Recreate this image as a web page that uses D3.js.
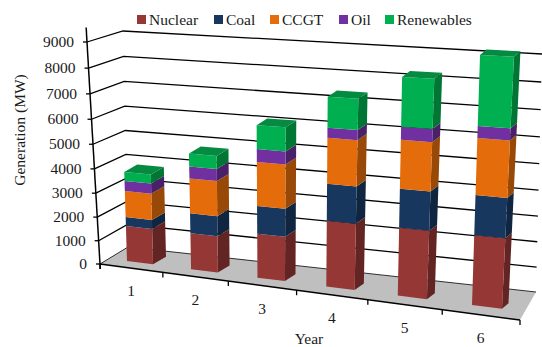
<!DOCTYPE html>
<html>
<head>
<meta charset="utf-8">
<script src="https://cdn.jsdelivr.net/npm/d3@7"></script>
<style>
html, body { margin: 0; padding: 0; background: #fff; }
text { font-family: "Liberation Serif", serif; font-size: 15.5px; fill: #1a1a1a; }
</style>
</head>
<body>
<div id="chart"></div>
<script>
const years = ["1", "2", "3", "4", "5", "6"];
const seriesNames = ["Nuclear", "Coal", "CCGT", "Oil", "Renewables"];
const nuclear = [1400, 1400, 1670, 2440, 2450, 2460];
const coal = [360, 780, 1060, 1370, 1410, 1410];
const ccgt = [1040, 1360, 1670, 1700, 1770, 2010];
const oil = [400, 470, 490, 370, 470, 420];
const renewables = [360, 500, 910, 1150, 1800, 2500];
const yTicks = [0, 1000, 2000, 3000, 4000, 5000, 6000, 7000, 8000, 9000];

const width = 542;
const height = 347;

const frontColors = ["#953735", "#17375e", "#e46c0a", "#7030a0", "#00b050"];
const sideColors = ["#632523", "#10253f", "#984807", "#4a2069", "#007635"];
const topColor = "#058a42";

const svg = d3.select("#chart").append("svg")
    .attr("width", width)
    .attr("height", height)
    .style("display", "block");

const line = d3.line();
const mix = (a, b, t) => a + (b - a) * t;

// perspective squeeze along an axis
const warp = (t, k) => k * t / (1 + (k - 1) * t);

const uScale = d3.scaleLinear().domain([0, years.length]).range([0, 1]);
const wScale = d3.scaleLinear().domain([0, 9000]).range([0, 1]);

// cage of the walls and floor, v = 0 front, v = 1 back
const wall = {
    frontLeft: [[100, 264], [87, 42]],
    backLeft: [[128, 247], [123, 31]],
    backRight: [[536, 292], [542, 54]],
    frontRight: [[520, 320], [529, 70]]
};

function wallPoint(cat, v, value) {
    let u = warp(uScale(cat), 0.88);
    let w = warp(wScale(value), 0.937);
    return [0, 1].map(i => {
        let left = mix(mix(wall.frontLeft[0][i], wall.frontLeft[1][i], w), mix(wall.backLeft[0][i], wall.backLeft[1][i], w), v);
        let right = mix(mix(wall.frontRight[0][i], wall.frontRight[1][i], w), mix(wall.backRight[0][i], wall.backRight[1][i], w), v);
        return mix(left, right, u);
    });
}

// the bars have their own cage, the picture's bars don't sit quite in the walls' space
const barPos = d3.scalePoint().domain(years).range([0, 1]);
const barCage = {
    bottom: [[127, 261], [472, 305]],
    top: [[120, 36], [480.2, 49.4]]
};

function barPoint(year, a, d, value) {
    let t = warp(barPos(year), 0.912);
    let w = wScale(value);
    let x = mix(mix(barCage.bottom[0][0], barCage.bottom[1][0], t), mix(barCage.top[0][0], barCage.top[1][0], t), w);
    let y = mix(mix(barCage.bottom[0][1], barCage.bottom[1][1], t), mix(barCage.top[0][1], barCage.top[1][1], t), w);
    let barW = mix(mix(26, 30, t), mix(27.5, 34, t), w);
    let slope = mix(0.125, 0.047, w);
    let depthX = mix(13, 6.5, t);
    let depthY = mix(-7.5, -5.5, t);
    return [x + a * barW + d * depthX, y + a * barW * slope + d * depthY];
}

// floor
svg.append("path")
    .attr("d", line([wallPoint(0, 0, 0), wallPoint(0, 1, 0), wallPoint(6, 1, 0), wallPoint(6, 0, 0)]) + "Z")
    .attr("fill", "#bfbfbf");

// gridlines, side wall then back wall
svg.append("g").selectAll("path")
    .data(yTicks)
    .join("path")
    .attr("d", d => line([wallPoint(0, 0, d), wallPoint(0, 1, d), wallPoint(6, 1, d)]))
    .attr("fill", "none")
    .attr("stroke", "#000")
    .attr("stroke-width", d => d === 0 ? 0.8 : 1.3);

// bars
const rows = years.map((y, i) => ({ year: y, Nuclear: nuclear[i], Coal: coal[i], CCGT: ccgt[i], Oil: oil[i], Renewables: renewables[i] }));
const stacked = d3.stack().keys(seriesNames)(rows);

years.forEach((year, i) => {
    let g = svg.append("g");
    stacked.forEach((layer, s) => {
        let y0 = layer[i][0];
        let y1 = layer[i][1];
        g.append("path")
            .attr("d", line([barPoint(year, 1, 0, y0), barPoint(year, 1, 1, y0), barPoint(year, 1, 1, y1), barPoint(year, 1, 0, y1)]) + "Z")
            .attr("fill", sideColors[s]);
        g.append("path")
            .attr("d", line([barPoint(year, 0, 0, y0), barPoint(year, 1, 0, y0), barPoint(year, 1, 0, y1), barPoint(year, 0, 0, y1)]) + "Z")
            .attr("fill", frontColors[s]);
        if (s === stacked.length - 1) {
            g.append("path")
                .attr("d", line([barPoint(year, 0, 0, y1), barPoint(year, 1, 0, y1), barPoint(year, 1, 1, y1), barPoint(year, 0, 1, y1)]) + "Z")
                .attr("fill", topColor);
        }
    });
});

// y axis
svg.append("path")
    .attr("d", line([wallPoint(0, 0, 9550), wallPoint(0, 0, -220)]))
    .attr("fill", "none")
    .attr("stroke", "#000")
    .attr("stroke-width", 1.5);

svg.append("g").selectAll("path")
    .data(yTicks)
    .join("path")
    .attr("d", d => {
        let p = wallPoint(0, 0, d);
        return line([[p[0] - 4, p[1]], p]);
    })
    .attr("stroke", "#000")
    .attr("stroke-width", 1.3);

svg.append("g").selectAll("text")
    .data(yTicks)
    .join("text")
    .attr("x", d => wallPoint(0, 0, d)[0] - 13)
    .attr("y", d => wallPoint(0, 0, d)[1] + 5)
    .attr("text-anchor", "end")
    .text(d => d);

// x axis
svg.append("path")
    .attr("d", line([wallPoint(0, 0, 0), wallPoint(6, 0, 0)]))
    .attr("fill", "none")
    .attr("stroke", "#000")
    .attr("stroke-width", 1.5);

svg.append("g").selectAll("path")
    .data(d3.range(years.length + 1))
    .join("path")
    .attr("d", d => {
        let p = wallPoint(d, 0, 0);
        return line([p, [p[0], p[1] + 5]]);
    })
    .attr("stroke", "#000")
    .attr("stroke-width", 1.3);

svg.append("g").selectAll("text")
    .data(years)
    .join("text")
    .attr("x", (d, i) => wallPoint(i + 0.5, 0, 0)[0])
    .attr("y", (d, i) => wallPoint(i + 0.5, 0, 0)[1] + 28)
    .attr("text-anchor", "middle")
    .text(d => d);

// axis titles
svg.append("text")
    .attr("x", 309)
    .attr("y", 343.5)
    .attr("text-anchor", "middle")
    .text("Year");

svg.append("text")
    .attr("transform", "translate(25,130) rotate(-90)")
    .attr("text-anchor", "middle")
    .text("Generation (MW)");

// legend
const legendX = d3.scaleOrdinal().domain(seriesNames).range([137, 214, 270, 339, 385]);

const legend = svg.append("g").selectAll("g")
    .data(seriesNames)
    .join("g")
    .attr("transform", d => `translate(${legendX(d)},15)`);

legend.append("rect")
    .attr("width", 9)
    .attr("height", 9)
    .attr("fill", (d, i) => frontColors[i]);

legend.append("text")
    .attr("x", 12)
    .attr("y", 10)
    .text(d => d);
</script>
</body>
</html>
